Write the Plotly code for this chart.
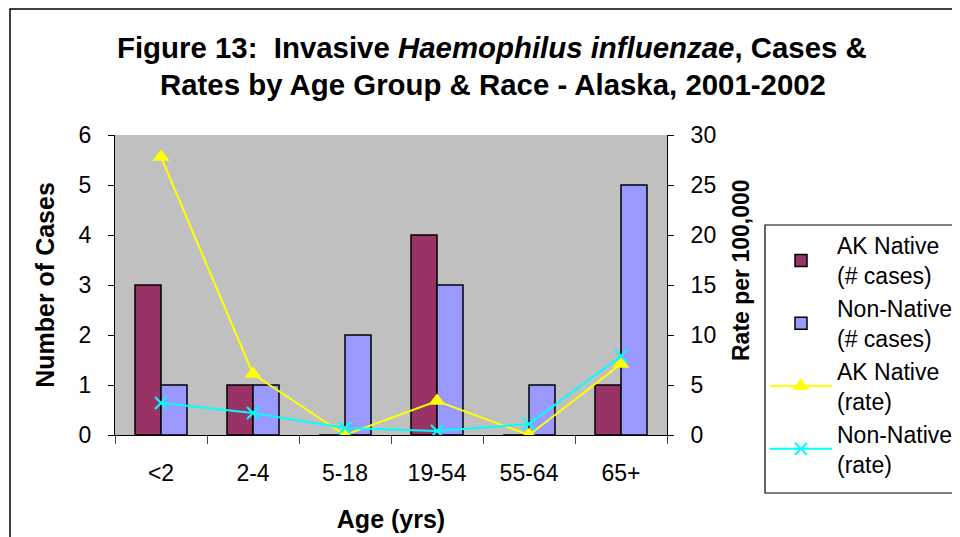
import plotly.graph_objects as go

age_groups = ["<2", "2-4", "5-18", "19-54", "55-64", "65+"]
ak_native_cases = [3, 1, 0, 4, 0, 1]
non_native_cases = [1, 1, 2, 3, 1, 5]
ak_native_rate = [27.8, 6.1, 0.0, 3.4, 0.0, 7.1]
non_native_rate = [3.2, 2.2, 0.7, 0.4, 1.1, 7.9]

FONT = "Arial, Liberation Sans, sans-serif"

# the page body adds an 8px margin, so the figure is drawn 8px smaller
OFF = 8
W, H = 960 - OFF, 537 - OFF
L, R, T, B = 115 - OFF, 667 - OFF, 135 - OFF, 435 - OFF
pw, ph = R - L, B - T


def px(x):
    return (x - OFF - L) / pw


def py(y):
    return (B - (y - OFF)) / ph


fig = go.Figure()
fig.add_trace(go.Bar(
    x=age_groups, y=ak_native_cases, name="AK Native<br>(# cases)",
    legendgroup="a",
    marker=dict(color="#993366", line=dict(color="black", width=1.5)),
))
fig.add_trace(go.Bar(
    x=age_groups, y=non_native_cases, name="Non-Native<br>(# cases)",
    legendgroup="b",
    marker=dict(color="#9999FF", line=dict(color="black", width=1.5)),
))
fig.add_trace(go.Scatter(
    x=age_groups, y=ak_native_rate, name="AK Native<br>(rate)", yaxis="y2",
    legendgroup="c",
    mode="lines+markers", line=dict(color="#FFFF00", width=2),
    marker=dict(symbol="triangle-up", size=15, color="#FFFF00"),
))
fig.add_trace(go.Scatter(
    x=age_groups, y=non_native_rate, name="Non-Native<br>(rate)", yaxis="y2",
    legendgroup="d",
    mode="lines+markers", line=dict(color="#00FFFF", width=2),
    marker=dict(symbol="x-thin", size=12, color="#00FFFF",
                line=dict(color="#00FFFF", width=2)),
))

fig.update_layout(
    width=W, height=H,
    margin=dict(l=L, r=W - R, t=T, b=H - B, autoexpand=False),
    paper_bgcolor="white", plot_bgcolor="#C0C0C0",
    font=dict(family=FONT, size=23, color="black"),
    barmode="group", bargap=0.435, bargroupgap=0,
    showlegend=True,
    legend=dict(
        x=px(765), y=py(224), xanchor="left", yanchor="top",
        borderwidth=0, bgcolor="rgba(0,0,0,0)",
        font=dict(family=FONT, size=23), tracegroupgap=4,
        itemwidth=62, traceorder="normal",
    ),
    xaxis=dict(
        type="category", showgrid=False, showline=True, linecolor="black",
        ticks="outside", tickson="boundaries", ticklen=8, tickcolor="#404040",
        tickfont=dict(size=23), ticklabelstandoff=17,
        title=dict(text="<b>Age (yrs)</b>", font=dict(size=25), standoff=25),
    ),
    yaxis=dict(
        range=[0, 6], dtick=1, showgrid=False, showline=True, linecolor="black",
        ticks="outside", ticklen=6, tickcolor="black", zeroline=False,
        tickfont=dict(size=23), ticklabelstandoff=12,
        title=dict(text="<b>Number of Cases</b>", font=dict(size=25), standoff=16),
    ),
    yaxis2=dict(
        range=[0, 30], dtick=5, overlaying="y", side="right", showgrid=False,
        showline=True, linecolor="black", ticks="outside", ticklen=6,
        tickcolor="black", zeroline=False, tickfont=dict(size=23),
        ticklabelstandoff=12,
    ),
    annotations=[
        dict(text="<b>Figure 13:  Invasive <i>Haemophilus influenzae</i>, Cases &amp;</b>",
             xref="paper", yref="paper", x=px(492), y=py(47), xanchor="center",
             yanchor="middle", showarrow=False, font=dict(size=29.4)),
        dict(text="<b>Rates by Age Group &amp; Race - Alaska, 2001-2002</b>",
             xref="paper", yref="paper", x=px(493), y=py(84), xanchor="center",
             yanchor="middle", showarrow=False, font=dict(size=29.4)),
        dict(text="<b>Rate per 100,000</b>", textangle=-90,
             xref="paper", yref="paper", x=px(741), y=py(270), xanchor="center",
             yanchor="middle", showarrow=False, font=dict(size=23)),
    ],
    shapes=[
        dict(type="rect", xref="paper", yref="paper",
             x0=px(10), y0=py(560), x1=px(990), y1=py(9),
             line=dict(color="black", width=1.5), fillcolor="rgba(0,0,0,0)",
             layer="below"),
        dict(type="rect", xref="paper", yref="paper",
             x0=px(765), y0=py(493), x1=px(990), y1=py(225),
             line=dict(color="black", width=1.2), fillcolor="rgba(0,0,0,0)",
             layer="below"),
    ],
)

fig.write_html("out.html")
